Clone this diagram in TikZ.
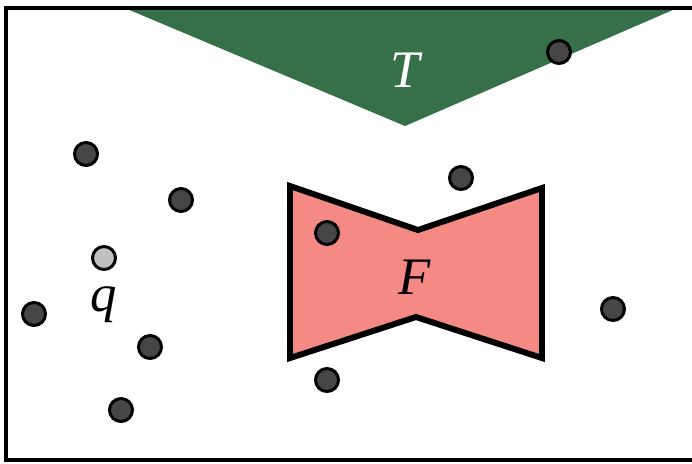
\documentclass[tikz,border=0pt]{standalone}
\usepackage{fontspec}
\setmainfont{Liberation Serif}
\usepackage{tikz}
\usetikzlibrary{positioning}

\definecolor{targetgreen}{RGB}{54,112,72}
\definecolor{forbidred}{RGB}{245,138,132}
\definecolor{ptgray}{RGB}{70,70,70}
\definecolor{querygray}{RGB}{192,192,192}

\begin{document}
\begin{tikzpicture}[
  x=0.1mm, y=-0.1mm,
  every node/.style={font=\fontsize{15}{18}\selectfont\itshape},
  pt/.style={circle, draw, line width=0.85pt, fill=ptgray, minimum size=2.3mm, inner sep=0pt},
  querypt/.style={pt, fill=querygray},
  region/.style={line width=1.7pt, line join=miter}
]
\useasboundingbox (0,0) rectangle (692,463);
\clip (0,0) rectangle (692,463);

% target region T
\fill[targetgreen] (120,6) -- (682,6) -- (405,126) -- cycle;
\node[text=white] (tlab) at (405,70) {T};

% forbidden region F
\draw[region, fill=forbidred] (290,186) -- (418,230) -- (542,188) -- (542,358)
  -- (416,317) -- (290,358) -- cycle;
\node (flab) at (415,277) {F};

% workspace border
\draw[line width=0.9pt] (6,8) rectangle (720,460);

% sample points
\foreach \n/\x/\y in {p1/559/52, p2/86/154, p3/181/200, p4/461/178, p5/327/233,
                      p6/34/314, p7/150/347, p8/121/410, p9/327/380, p10/613/309}
  \node[pt] (\n) at (\x,\y) {};

% query point q
\node[querypt] (q) at (104,258) {};
\node[below=0.3mm of q] (qlab) {q};
\end{tikzpicture}
\end{document}
